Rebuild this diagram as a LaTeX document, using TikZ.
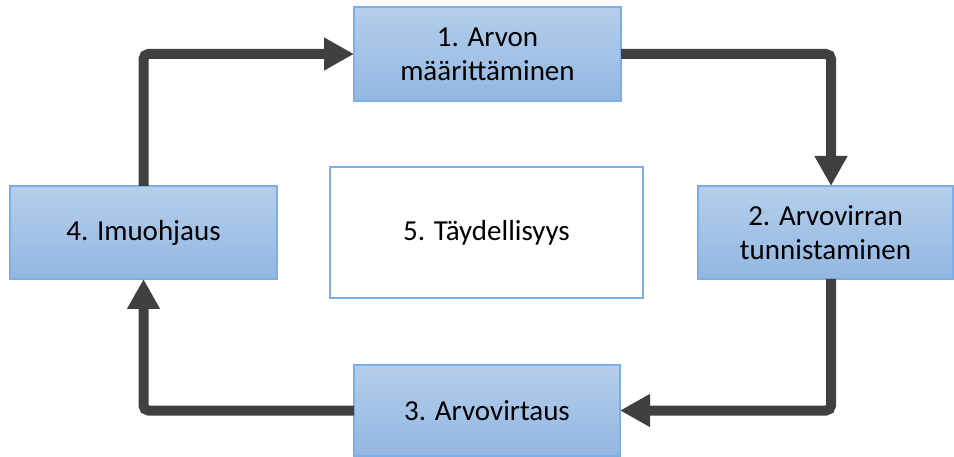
\documentclass[tikz,border=0pt]{standalone}
\usepackage{fontspec}
\setmainfont{Carlito}
\usetikzlibrary{arrows.meta}
\definecolor{boxtop}{HTML}{B5CEEB}
\definecolor{boxbottom}{HTML}{92B7E2}
\definecolor{boxline}{HTML}{7EAEE3}
\definecolor{flowgray}{HTML}{404040}
\begin{document}
\begin{tikzpicture}[x=1pt,y=-1pt,
  stepbox/.style={draw=boxline, line width=1.2pt, top color=boxtop, bottom color=boxbottom,
    inner sep=0pt, outer sep=0pt, align=center, text=black,
    font=\fontsize{29}{34}\selectfont},
  goalbox/.style={draw=boxline, line width=1.2pt, fill=white,
    inner sep=0pt, outer sep=0pt, align=center, text=black,
    font=\fontsize{29}{34}\selectfont},
  conn/.style={draw=flowgray, line width=10pt, rounded corners=5pt,
    -{Triangle[length=30pt,width=31pt]}}]
\useasboundingbox (0,0) rectangle (954,457);

% process steps
\node[stepbox, minimum width=267pt, minimum height=94pt] (n1) at (487.5,54) {1. Arvon\\määrittäminen};
\node[stepbox, minimum width=255pt, minimum height=93pt] (n2) at (825.5,232.5) {2. Arvovirran\\tunnistaminen};
\node[stepbox, minimum width=266pt, minimum height=91pt] (n3) at (487,410.5) {3. Arvovirtaus};
\node[stepbox, minimum width=267pt, minimum height=93pt] (n4) at (143.5,232.5) {4. Imuohjaus};
% central goal
\node[goalbox, minimum width=313pt, minimum height=131pt] (n5) at (486.5,232.5) {5. Täydellisyys};

% cycle connectors
\draw[conn] (n1.east) -| ([xshift=5.5pt]n2.north);
\draw[conn] ([xshift=5.5pt]n2.south) |- (n3.east);
\draw[conn] (n3.west) -| (n4.south);
\draw[conn] (n4.north) |- (n1.west);
\end{tikzpicture}
\end{document}
